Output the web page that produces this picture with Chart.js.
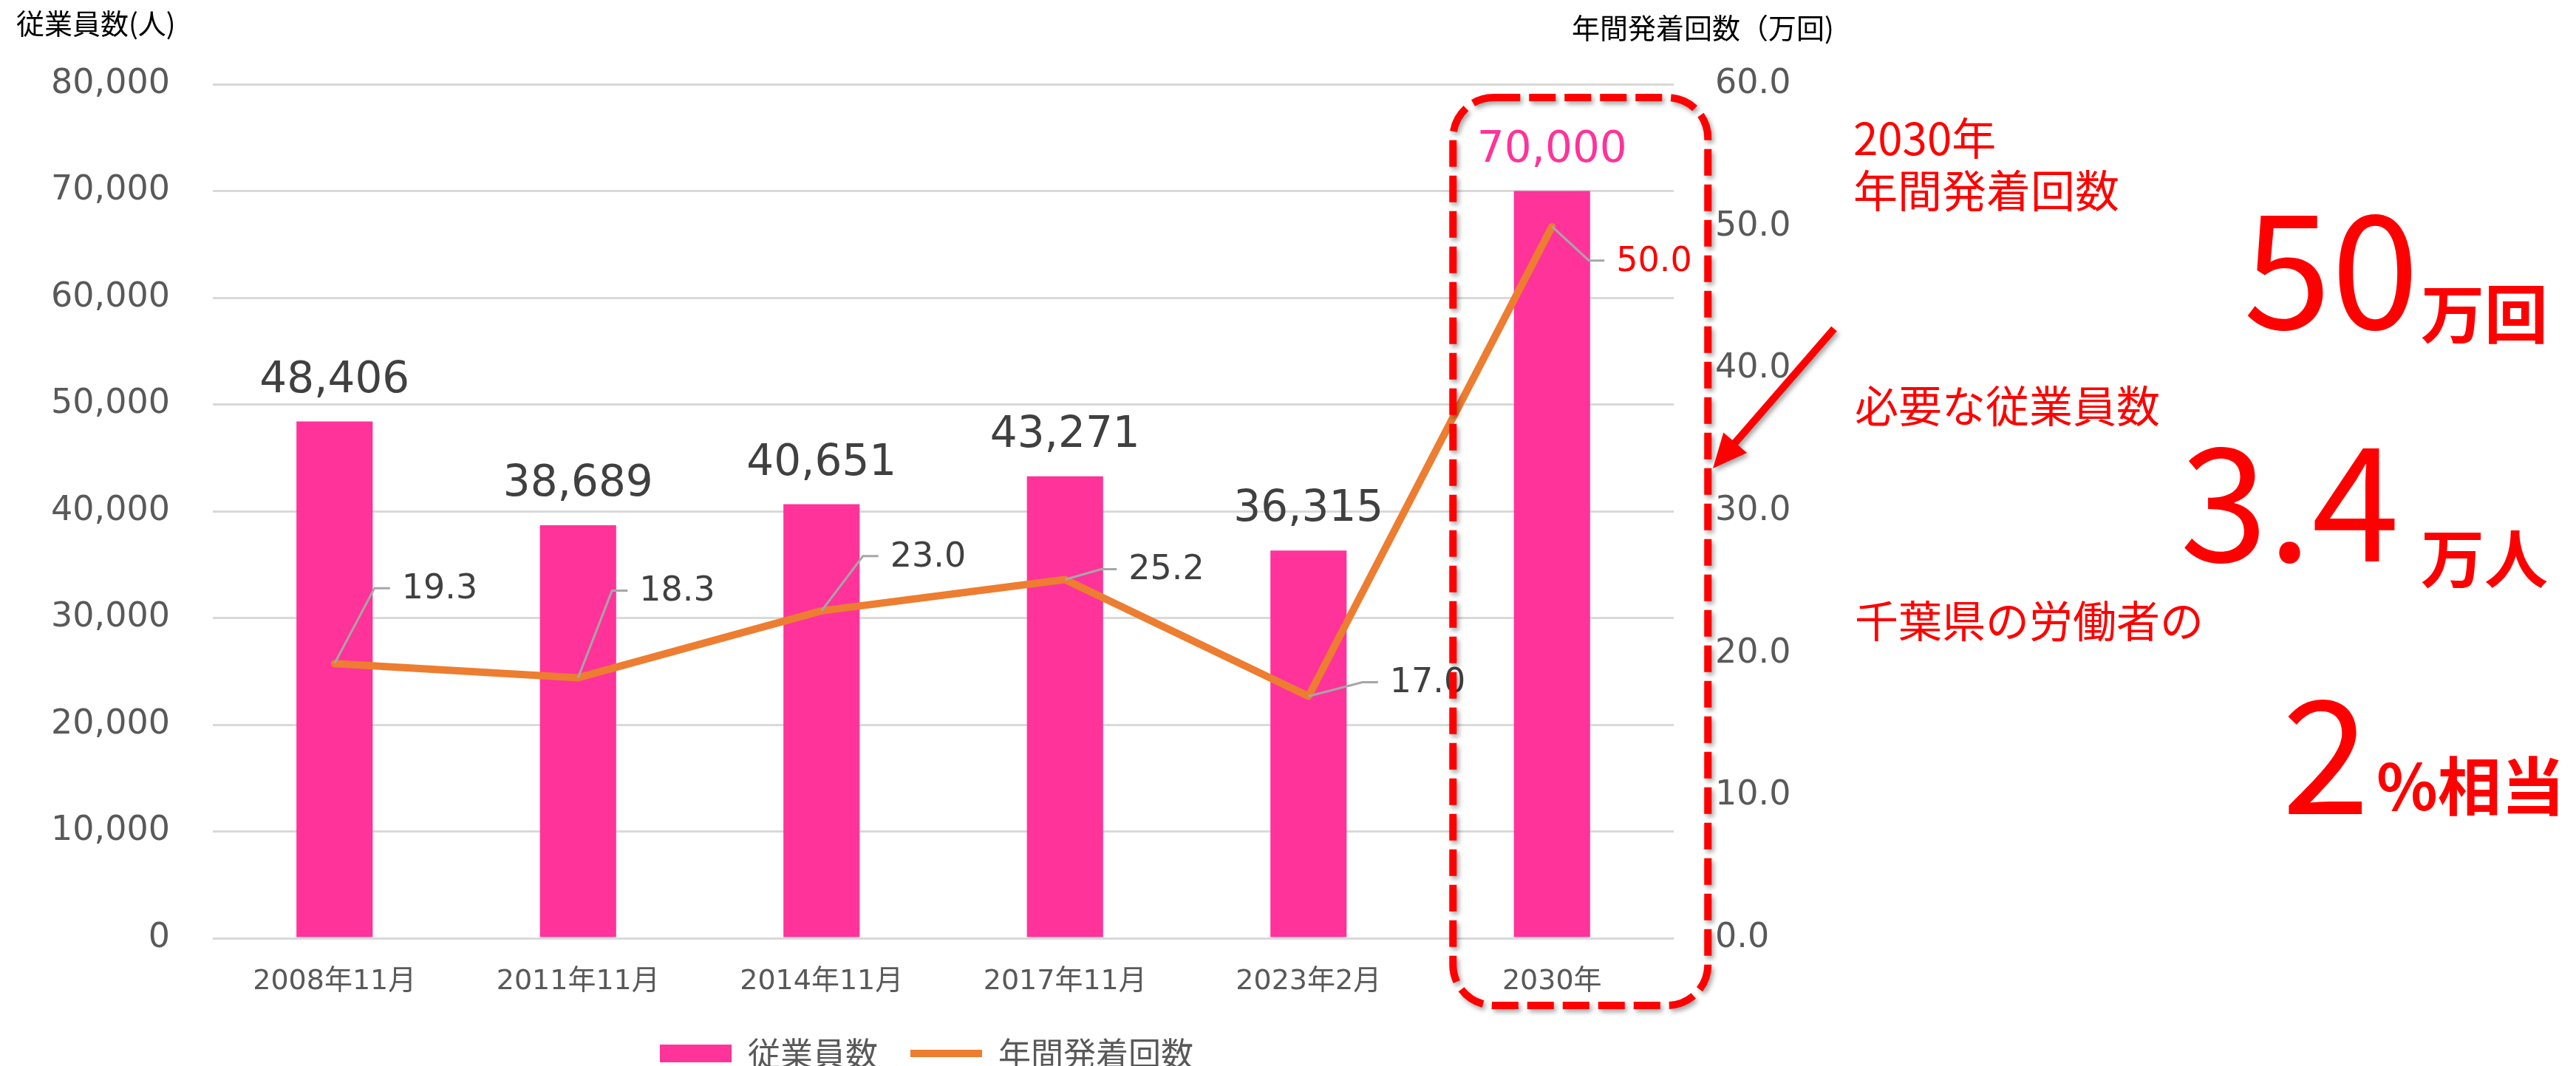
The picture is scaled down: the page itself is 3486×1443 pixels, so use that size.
<!DOCTYPE html>
<html><head><meta charset="utf-8">
<script src="https://cdn.jsdelivr.net/npm/chart.js@4.4.1/dist/chart.umd.min.js"></script>
<style>html,body{margin:0;padding:0;background:#fff;overflow:hidden}canvas{display:block}</style>
</head><body>
<canvas id="c" width="3486" height="1443"></canvas>
<script>
// ---- data ----
const categories = ['2008年11月', '2011年11月', '2014年11月', '2017年11月', '2023年2月', '2030年'];
const employees = [48406, 38689, 40651, 43271, 36315, 70000];
const flights = [19.3, 18.3, 23.0, 25.2, 17.0, 50.0];
const leftTickValues = [0, 10000, 20000, 30000, 40000, 50000, 60000, 70000, 80000];
const rightTickValues = [0, 10, 20, 30, 40, 50, 60];
const seriesNames = ['従業員数', '年間発着回数'];
const leftAxisTitle = '従業員数(人)';
const rightAxisTitle = '年間発着回数（万回)';
const highlightIndex = 5;
const noteSmall = ['2030年', '年間発着回数', '必要な従業員数', '千葉県の労働者の'];
const noteBig = [['50', '万回'], ['3.4', '万人'], ['2', '%相当']];

const CJK = "'Noto Sans CJK JP', sans-serif";
const NUM = "'DejaVu Sans', 'Noto Sans CJK JP', sans-serif";

const labelPlugin = {
  id: 'valueLabels',
  afterDatasetsDraw(chart, args, opts) {
    const ctx = chart.ctx;
    ctx.save();
    const barMeta = chart.getDatasetMeta(0);
    ctx.textAlign = 'center';
    ctx.textBaseline = 'middle';
    ctx.font = "58px " + NUM;
    barMeta.data.forEach((el, i) => {
      ctx.fillStyle = i === highlightIndex ? '#FF3399' : '#404040';
      ctx.fillText(employees[i].toLocaleString('en-US'), el.x, el.y - 55);
    });
    const lineMeta = chart.getDatasetMeta(1);
    ctx.font = "46px " + NUM;
    ctx.textAlign = 'left';
    lineMeta.data.forEach((el, i) => {
      const o = opts.leaders[i];
      const ex = el.x + o[0], ey = el.y + o[1];
      ctx.strokeStyle = '#A6A6A6';
      ctx.lineWidth = 3;
      ctx.beginPath();
      ctx.moveTo(el.x, el.y);
      ctx.lineTo(ex, ey);
      ctx.lineTo(ex + 21, ey);
      ctx.stroke();
      ctx.fillStyle = i === highlightIndex ? '#FF0000' : '#404040';
      ctx.fillText(flights[i].toFixed(1), ex + 37, ey + 2);
    });
    ctx.restore();
  }
};

const legendPos = {
  id: 'legendPos',
  afterLayout(chart) {
    const lg = chart.legend;
    if (!lg) return;
    const p = 44, w = lg.width, h = lg.height;
    lg.left = 893 - p; lg.right = lg.left + w;
    lg.top = 1404 - p; lg.bottom = lg.top + h;
  }
};

const annot = {
  id: 'annot',
  afterDraw(chart) {
    const ctx = chart.ctx;
    const xs = chart.scales.x;
    const ca = chart.chartArea;
    ctx.save();
    // axis titles
    ctx.fillStyle = '#000';
    ctx.textBaseline = 'middle';
    ctx.textAlign = 'left';
    ctx.font = "38px " + CJK;
    ctx.fillText(leftAxisTitle, 22, 32);
    ctx.fillText(rightAxisTitle, 2127, 38);

    // dashed rounded highlight box
    const px = xs.getPixelForValue(highlightIndex);
    ctx.save();
    ctx.shadowColor = 'rgba(0,0,0,0.35)';
    ctx.shadowBlur = 6;
    ctx.shadowOffsetX = 3;
    ctx.shadowOffsetY = 4;
    ctx.strokeStyle = '#FF0000';
    ctx.lineWidth = 10;
    ctx.setLineDash([36, 12]);
    ctx.beginPath();
    ctx.roundRect(px - 134, ca.top + 18, 345, 1229, 55);
    ctx.stroke();
    ctx.setLineDash([]);
    // arrow
    const sx = 2482, sy = 445, tx = 2318, ty = 634;
    const dx = tx - sx, dy = ty - sy, len = Math.hypot(dx, dy);
    const ux = dx / len, uy = dy / len, nx = -uy, ny = ux;
    const hl = 46, hw = 21;
    const bx = tx - ux * hl, by = ty - uy * hl;
    ctx.lineWidth = 10;
    ctx.lineCap = 'butt';
    ctx.beginPath();
    ctx.moveTo(sx, sy);
    ctx.lineTo(bx + ux * 4, by + uy * 4);
    ctx.stroke();
    ctx.fillStyle = '#FF0000';
    ctx.beginPath();
    ctx.moveTo(tx, ty);
    ctx.lineTo(bx + nx * hw, by + ny * hw);
    ctx.lineTo(bx - nx * hw, by - ny * hw);
    ctx.closePath();
    ctx.fill();
    ctx.restore();

    // red notes
    ctx.fillStyle = '#FF0000';
    ctx.textAlign = 'left';
    ctx.textBaseline = 'middle';
    ctx.font = "60px " + CJK;
    ctx.fillText(noteSmall[0], 2508, 187);
    ctx.fillText(noteSmall[1], 2508, 258);
    ctx.font = "59px " + CJK;
    ctx.fillText(noteSmall[2], 2510, 550);
    ctx.fillText(noteSmall[3], 2510, 841);

    ctx.textBaseline = 'alphabetic';
    const big = [[3036, 445, 3276, 458], [2950, 760, 3276, 789], [3088, 1102, 3216, 1097]];
    noteBig.forEach((pair, i) => {
      const b = big[i];
      ctx.font = "214px " + CJK;
      ctx.fillText(pair[0], b[0], b[1]);
      ctx.font = "bold 86px " + CJK;
      ctx.fillText(pair[1], b[2], b[3]);
    });
    ctx.restore();
  }
};

new Chart(document.getElementById('c'), {
  data: {
    labels: categories,
    datasets: [
      {
        type: 'bar', label: seriesNames[0], data: employees, yAxisID: 'y',
        backgroundColor: '#FF3399', borderWidth: 0, order: 1, pointStyle: 'rect',
        categoryPercentage: 0.313, barPercentage: 1
      },
      {
        type: 'line', label: seriesNames[1], data: flights, yAxisID: 'y1',
        borderColor: '#ED7D31', backgroundColor: '#ED7D31', borderWidth: 10,
        pointRadius: 0, tension: 0, order: 0, pointStyle: 'line',
        borderCapStyle: 'round', borderJoinStyle: 'round'
      }
    ]
  },
  options: {
    responsive: false, animation: false, devicePixelRatio: 1,
    layout: { padding: { top: 114, left: 0, right: 0, bottom: 0 } },
    scales: {
      x: {
        grid: { display: false, drawTicks: false }, border: { display: false },
        ticks: { color: '#595959', font: { size: 38, family: NUM }, padding: 36, maxRotation: 0, autoSkip: false },
        afterFit(s) { s.height = 75; }
      },
      y: {
        position: 'left', min: 0, max: 80000,
        grid: { color: '#D9D9D9', lineWidth: 3, drawTicks: false }, border: { display: false },
        ticks: { color: '#595959', font: { size: 46, family: NUM }, padding: 58,
          callback: v => v.toLocaleString('en-US') },
        afterBuildTicks(s) { s.ticks = leftTickValues.map(v => ({ value: v })); },
        afterFit(s) { s.width = 288; }
      },
      y1: {
        position: 'right', min: 0, max: 60,
        grid: { display: false, drawTicks: false }, border: { display: false },
        ticks: { color: '#595959', font: { size: 46, family: NUM }, padding: 56,
          callback: v => Number(v).toFixed(1) },
        afterBuildTicks(s) { s.ticks = rightTickValues.map(v => ({ value: v })); },
        afterFit(s) { s.width = 1221; }
      }
    },
    plugins: {
      tooltip: { enabled: false },
      legend: {
        position: 'bottom', align: 'start',
        labels: {
          usePointStyle: true, pointStyleWidth: 97, boxHeight: 24, padding: 44,
          color: '#595959', font: { size: 44, family: CJK },
          sort: (a, b) => a.datasetIndex - b.datasetIndex
        }
      },
      valueLabels: {
        leaders: [[54, -102], [46, -118], [56, -74], [49, -14], [73, -19], [50, 46]]
      }
    }
  },
  plugins: [labelPlugin, legendPos, annot]
});
</script>
</body></html>
